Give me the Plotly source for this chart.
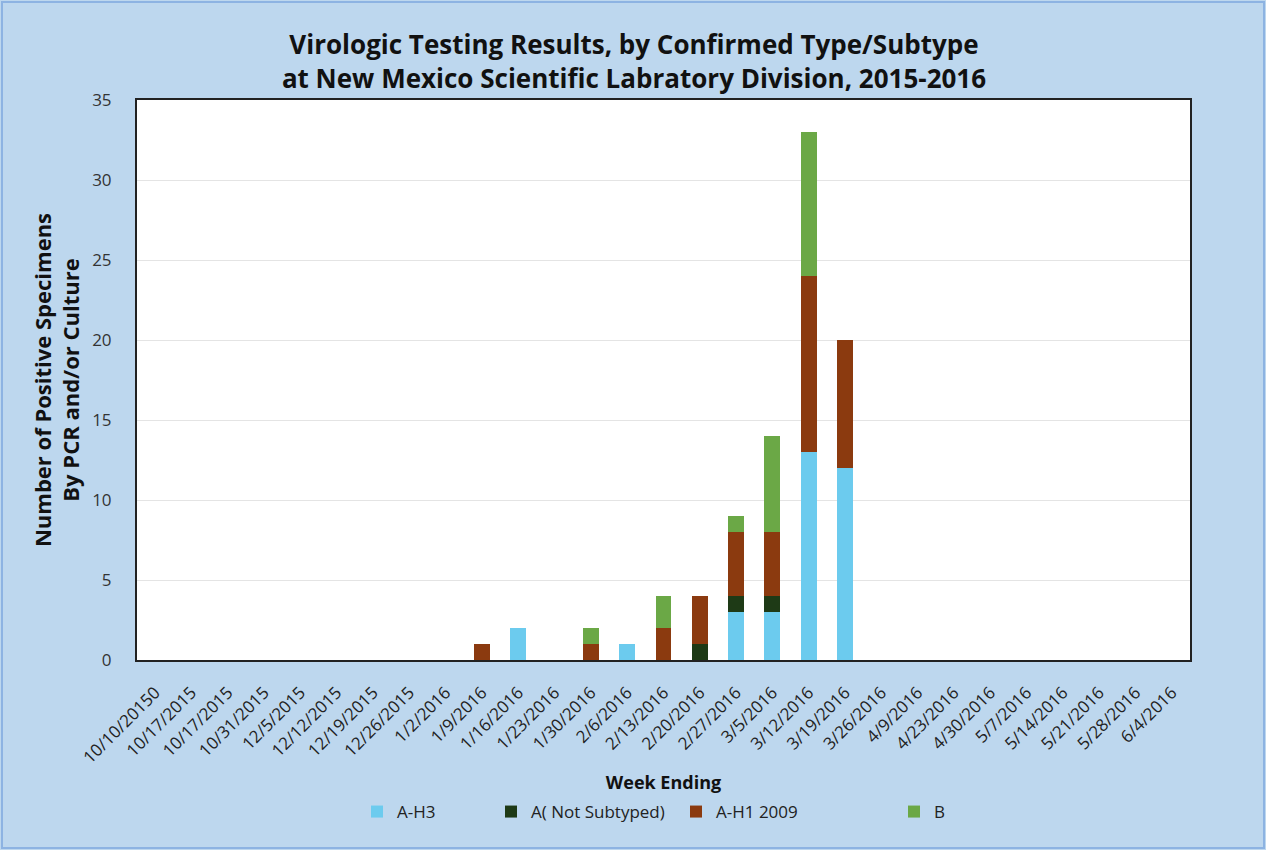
import plotly.graph_objects as go

weeks = ["10/10/20150", "10/17/2015", "10/17/2015", "10/31/2015", "12/5/2015",
         "12/12/2015", "12/19/2015", "12/26/2015", "1/2/2016", "1/9/2016",
         "1/16/2016", "1/23/2016", "1/30/2016", "2/6/2016", "2/13/2016",
         "2/20/2016", "2/27/2016", "3/5/2016", "3/12/2016", "3/19/2016",
         "3/26/2016", "4/9/2016", "4/23/2016", "4/30/2016", "5/7/2016",
         "5/14/2016", "5/21/2016", "5/28/2016", "6/4/2016"]

a_h3 =       [0, 0, 0, 0, 0, 0, 0, 0, 0, 0, 2, 0, 0, 1, 0, 0, 3, 3, 13, 12, 0, 0, 0, 0, 0, 0, 0, 0, 0]
a_not_sub =  [0, 0, 0, 0, 0, 0, 0, 0, 0, 0, 0, 0, 0, 0, 0, 1, 1, 1, 0, 0, 0, 0, 0, 0, 0, 0, 0, 0, 0]
a_h1_2009 =  [0, 0, 0, 0, 0, 0, 0, 0, 0, 1, 0, 0, 1, 0, 2, 3, 4, 4, 11, 8, 0, 0, 0, 0, 0, 0, 0, 0, 0]
b_type =     [0, 0, 0, 0, 0, 0, 0, 0, 0, 0, 0, 0, 1, 0, 2, 0, 1, 6, 9, 0, 0, 0, 0, 0, 0, 0, 0, 0, 0]

series = [
    ("A-H3", a_h3, "#6CCBEE"),
    ("A( Not Subtyped)", a_not_sub, "#1E3A16"),
    ("A-H1 2009", a_h1_2009, "#8B3A0F"),
    ("B", b_type, "#6BA846"),
]

xpos = list(range(len(weeks)))

L, R, T, B = 137, 76, 100, 190
W, H = 1266, 850
pw, ph = W - L - R, H - T - B

legend_ids = ["legend", "legend2", "legend3", "legend4"]
legend_sym_px = [377, 511, 696, 914]

fig = go.Figure()
for (name, vals, col), lid in zip(series, legend_ids):
    fig.add_trace(go.Bar(x=xpos, y=vals, name=name, legend=lid, showlegend=True,
                         marker=dict(color=col, line=dict(width=0)), width=0.44))

legend_common = dict(orientation="h", yanchor="middle", xanchor="left",
                     font=dict(size=17, color="#222"), bgcolor="rgba(0,0,0,0)",
                     itemwidth=30, borderwidth=0, yref="container", xref="container")
leg_layout = {}
for lid, px in zip(legend_ids, legend_sym_px):
    leg_layout[lid] = dict(legend_common, x=(px - 20) / W, y=1 - 812 / H)

fig.update_layout(
    width=W, height=H,
    showlegend=True,
    barmode="stack",
    paper_bgcolor="#BDD7EE",
    plot_bgcolor="white",
    margin=dict(l=L, r=R, t=T, b=B),
    font=dict(family="Open Sans, Liberation Sans, sans-serif", color="#222"),
    title=dict(text="<b>Virologic Testing Results, by Confirmed Type/Subtype<br>at New Mexico Scientific Labratory Division, 2015-2016</b>",
               x=(634 - L) / pw, xanchor="center", xref="paper",
               yref="container", y=1 - 54 / H, yanchor="top",
               font=dict(size=26, color="#111")),
    xaxis=dict(
        tickmode="array", tickvals=xpos, ticktext=weeks,
        tickangle=-45, range=[-0.5, len(weeks) - 0.5],
        tickfont=dict(size=17, color="#222"),
        showgrid=False, zeroline=False, showline=True, linecolor="#222", linewidth=2, mirror=True,
        title=dict(text="<b>Week Ending</b>", font=dict(size=18, color="#111"), standoff=12),
        ticks="outside", ticklen=14, tickcolor="rgba(0,0,0,0)", automargin=False,
    ),
    yaxis=dict(
        range=[0, 35], dtick=5,
        tickfont=dict(size=17, color="#333"),
        showgrid=True, gridcolor="#E4E4E4", gridwidth=1,
        zeroline=False, showline=True, linecolor="#222", linewidth=2, mirror=True,
        title=dict(text="<b>Number of Positive Specimens<br>By PCR and/or Culture</b>",
                   font=dict(size=22, color="#111"), standoff=6),
        ticks="outside", ticklen=20, tickcolor="rgba(0,0,0,0)", automargin=False,
    ),
    bargap=0.5,
    **leg_layout,
)

fig.add_shape(type="rect", xref="paper", yref="paper",
              x0=-(L - 2) / pw, x1=1 + (R - 2) / pw, y0=-(B - 2) / ph, y1=1 + (T - 2) / ph,
              line=dict(color="#8DB3E2", width=2), fillcolor="rgba(0,0,0,0)", layer="below")

fig.write_html("out.html", config={"displayModeBar": False},
               post_script="document.body.style.margin='0';")
